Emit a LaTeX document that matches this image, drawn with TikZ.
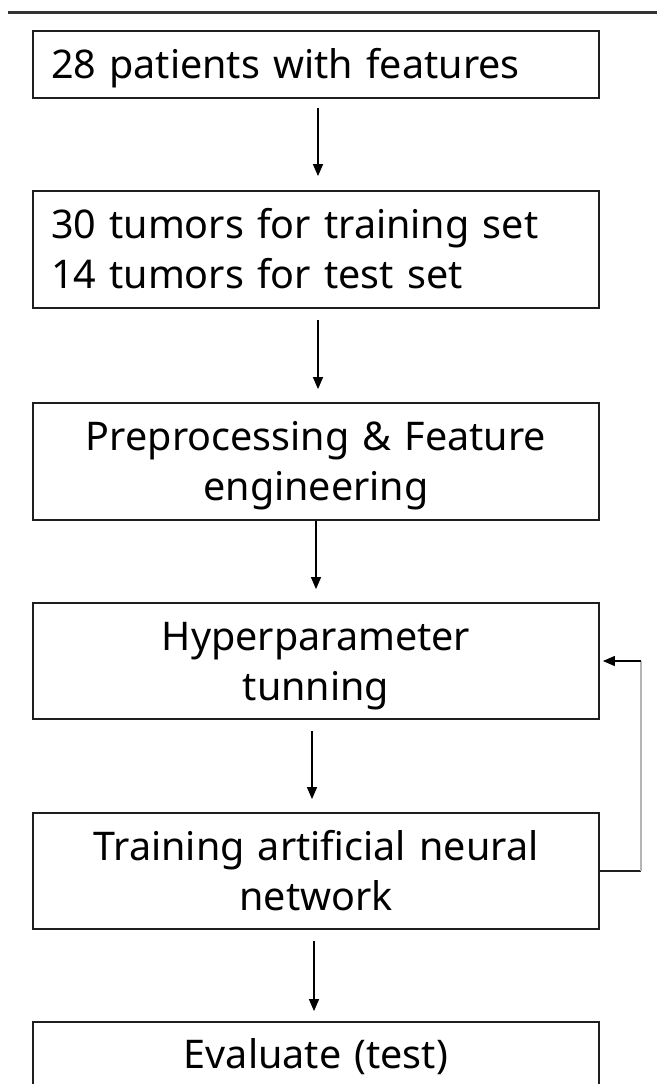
\documentclass[tikz,border=0pt]{standalone}
\usepackage{fontspec}
\setmainfont{Noto Sans}
\usetikzlibrary{arrows.meta}
\definecolor{boxline}{HTML}{1E1E1E}
\definecolor{fbgray}{HTML}{B4B4B4}
\definecolor{rulecol}{HTML}{333333}
\tikzset{
  flowbox/.style={draw=boxline, line width=1.8pt, inner sep=0pt,
    minimum width=566pt, text width=530pt,
    font=\fontsize{39.5}{50}\selectfont, text height=28.5pt},
  onebox/.style={flowbox, text depth=0pt},
  twobox/.style={flowbox, text depth=50pt},
  flowarrow/.style={draw=black, line width=1.3pt, -{Triangle[length=12pt,width=10pt]}},
}
\begin{document}
\begin{tikzpicture}[x=1pt,y=-1pt]
\clip (0,0) rectangle (657,1084);
\fill[white] (0,0) rectangle (657,1084);
\coordinate (ruleL) at (8,12);
\coordinate (ruleR) at (657,12);
\draw[rulecol, line width=3pt] (ruleL) -- (ruleR);

\node[onebox, align=left, minimum height=67pt] (b1) at (316,64.5) {28 patients with features};
\node[twobox, align=left, minimum height=117pt] (b2) at (316,249.5) {30 tumors for training set\\14 tumors for test set};
\node[twobox, align=center, minimum height=117pt] (b3) at (316,461.5) {Preprocessing \& Feature\\engineering};
\node[twobox, align=center, minimum height=116pt] (b4) at (316,661) {Hyperparameter\\tunning};
\node[twobox, align=center, minimum height=116pt] (b5) at (316,871) {Training artificial neural\\network};
\node[onebox, align=center, minimum height=64pt] (b6) at (316,1054) {Evaluate (test)};

\draw[flowarrow, shorten <=9pt, shorten >=14pt] ([xshift=2pt]b1.south) -- ([xshift=2pt]b2.north);
\draw[flowarrow, shorten <=11pt, shorten >=13pt] ([xshift=2pt]b2.south) -- ([xshift=2pt]b3.north);
\draw[flowarrow, shorten <=0pt, shorten >=13pt] (b3.south) -- (b4.north);
\draw[flowarrow, shorten <=11pt, shorten >=13pt] ([xshift=-4pt]b4.south) -- ([xshift=-4pt]b4.south |- b5.north);
\draw[flowarrow, shorten <=11pt, shorten >=10pt] ([xshift=-2pt]b5.south) -- ([xshift=-2pt]b6.north);

\coordinate (fbA) at ([xshift=41pt]b5.east);
\coordinate (fbB) at (fbA |- b4.east);
\draw[boxline, line width=1.3pt] (b5.east) -- (fbA);
\draw[fbgray, line width=1.8pt] (fbA) -- (fbB);
\draw[flowarrow, shorten >=3pt] (fbB) -- (b4.east);
\end{tikzpicture}
\end{document}
